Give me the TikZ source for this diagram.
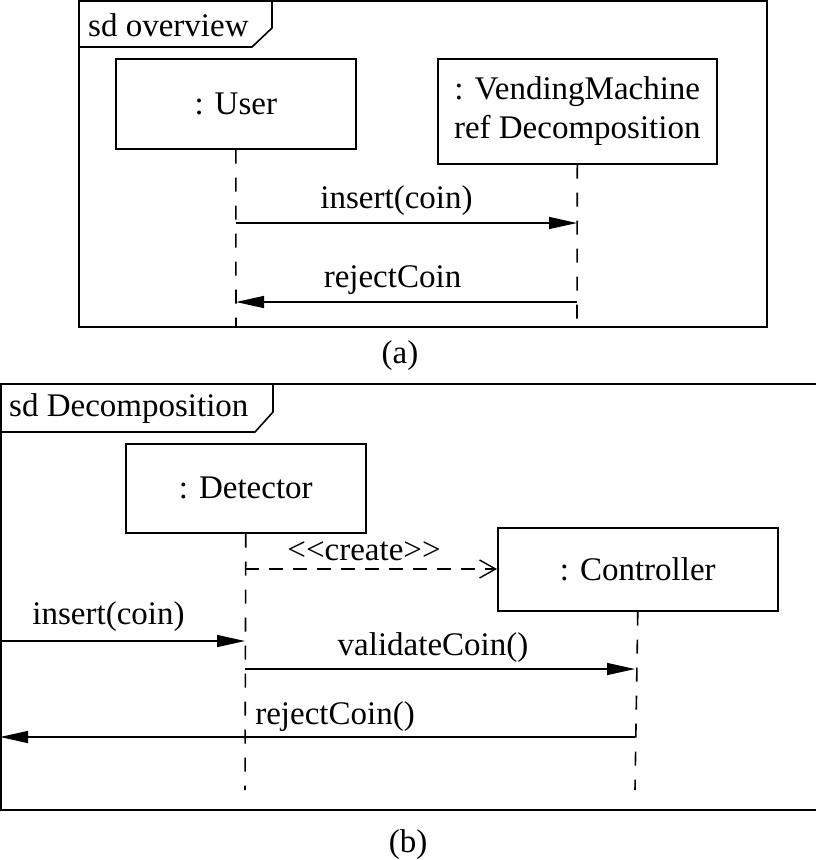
\documentclass[tikz,border=0pt]{standalone}
\usepackage{fontspec}
\setmainfont{Liberation Serif}
\usetikzlibrary{arrows.meta}
\begin{document}
\begin{tikzpicture}[x=1pt,y=-1pt,
  every node/.style={font=\fontsize{33}{39}\selectfont},
  obj/.style={draw,line width=1.6pt,inner sep=0pt,anchor=north west},
  frm/.style={line width=1.6pt},
  life/.style={line width=1.6pt,dash pattern=on 14pt off 14pt},
  msg/.style={line width=1.4pt,-{Triangle[length=28pt,width=12pt]}},
  crt/.style={line width=1.4pt,dash pattern=on 14pt off 10pt,-{Straight Barb[length=16pt,width=18pt,line width=1.4pt]}},
  lbl/.style={inner sep=0pt}]
\useasboundingbox (0,0) rectangle (816,860);
% ---------- (a)
\draw[frm] (79,1) rectangle (767,327);
\draw[frm] (79,47) -- (252,47) -- (272,28) -- (272,1);
\node[lbl,anchor=west] (ta) at (88,25) {sd overview};
\node[obj,minimum width=240pt,minimum height=90pt] (user) at (115,58) {: User};
\node[obj,minimum width=279pt,minimum height=105pt,align=center] (vm) at (437,58) {: VendingMachine\\ref Decomposition};
\coordinate (userEnd) at (236,327);
\coordinate (vmEnd) at (577,327);
\draw[life] (user.south) -- (userEnd);
\draw[life] (vm.south) -- (vmEnd);
\coordinate (u1) at (236,223); \coordinate (v1) at (577,223);
\coordinate (u2) at (236,302); \coordinate (v2) at (577,302);
\draw[msg] (u1) -- node[lbl,above=7pt,xshift=-10pt] {insert(coin)} (v1);
\draw[msg] (v2) -- node[lbl,above=7pt,xshift=-14pt] {rejectCoin} (u2);
\node[lbl] (capa) at (400,356) {(a)};
% ---------- (b)
\draw[frm] (820,384) -- (1,384) -- (1,810) -- (820,810);
\draw[frm] (1,432) -- (255,432) -- (273,412) -- (273,384);
\node[lbl,anchor=west] (tb) at (9,409) {sd Decomposition};
\node[obj,minimum width=240pt,minimum height=89pt] (det) at (125,443) {: Detector};
\node[obj,minimum width=280pt,minimum height=83pt] (ctl) at (497,527) {: Controller};
\coordinate (detEnd) at (245,790);
\coordinate (ctlEnd) at (635,790);
\draw[life] (det.south) -- (detEnd);
\draw[life] (ctl.south) -- (ctlEnd);
\coordinate (d0) at (245,569);
\draw[crt] (d0) -- node[lbl,above=7pt,xshift=-7pt] {<{}<create>{}>} (d0 -| ctl.west);
\coordinate (left1) at (0,641); \coordinate (d1) at (245,641);
\draw[msg] (left1) -- node[lbl,above=9pt,xshift=-14pt] {insert(coin)} (d1);
\coordinate (d2) at (245,669); \coordinate (c2) at (635,669);
\draw[msg] (d2) -- node[lbl,above=6pt,xshift=-7pt] {validateCoin()} (c2);
\coordinate (c3) at (635,737); \coordinate (left3) at (0,737);
\node[lbl] (rc) at (335,717) {rejectCoin()};
\draw[msg] (c3) -- (left3);
\node[lbl] (capb) at (408,845) {(b)};
\end{tikzpicture}
\end{document}
